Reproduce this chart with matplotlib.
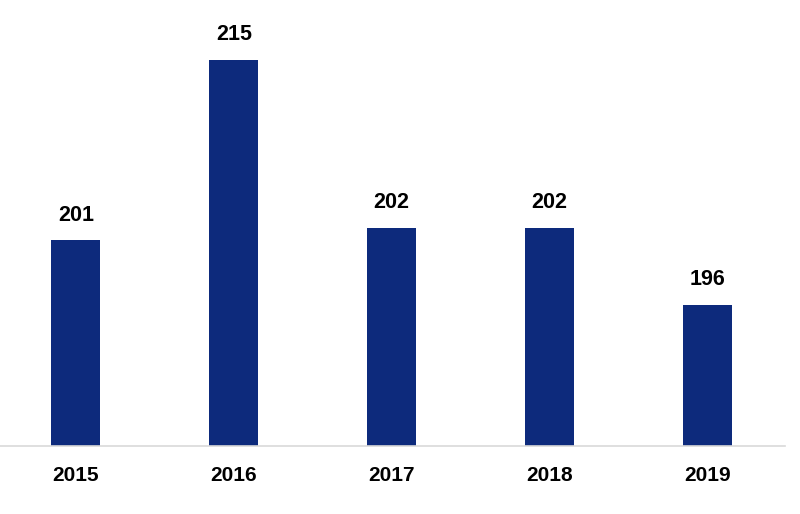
import matplotlib.pyplot as plt

years = ['2015', '2016', '2017', '2018', '2019']
values = [201, 215, 202, 202, 196]

plt.rcParams['font.family'] = ['Liberation Sans', 'DejaVu Sans']

fig = plt.figure(figsize=(8, 5.14), dpi=100)
ax = fig.add_axes([0, 0.1323, 785 / 800, 1 - 0.1323])
x = range(len(years))
bars = ax.bar(x, values, width=0.31, color='#0d2a7c', zorder=2)

ax.set_ylim(185.05, 219.65)
ax.set_xlim(-0.48, 4.49)

for xi, v in zip(x, values):
    ax.annotate(str(v), (xi, v), xytext=(0, 10.5), textcoords='offset points',
                ha='center', va='bottom', fontsize=15.5, fontweight='bold', color='black')

for s in ['top', 'right', 'left']:
    ax.spines[s].set_visible(False)
ax.spines['bottom'].set_color('#d9d9d9')
ax.spines['bottom'].set_linewidth(1.2)
ax.set_yticks([])
ax.set_xticks(list(x))
ax.set_xticklabels(years, fontsize=15, fontweight='bold')
ax.tick_params(axis='x', length=0, pad=14.5)

fig.savefig('out.png', dpi=100)
